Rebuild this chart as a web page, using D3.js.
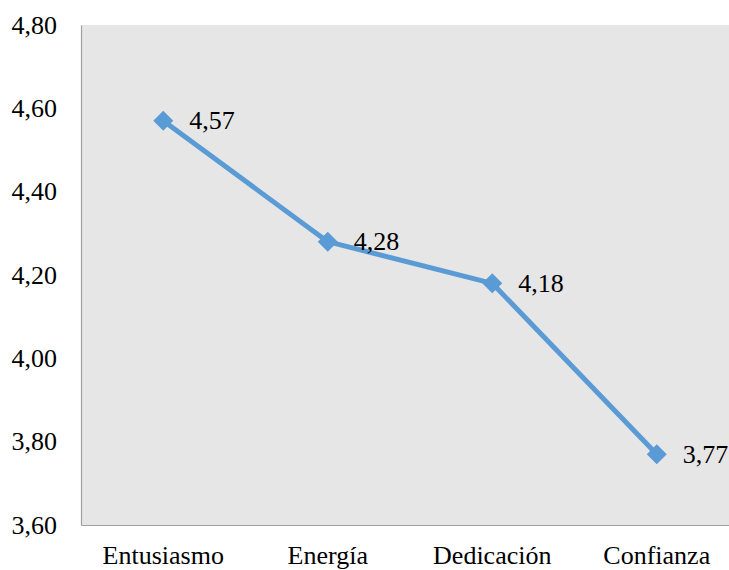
<!DOCTYPE html>
<html>
<head>
<meta charset="utf-8">
<script src="https://cdn.jsdelivr.net/npm/d3@7"></script>
<style>
  body { margin: 0; background: #ffffff; }
  svg { display: block; }
</style>
</head>
<body>
<svg id="chart" width="729" height="570"></svg>
<script>
// Dimension means
const categories = ["Entusiasmo", "Energía", "Dedicación", "Confianza"];
const values = [4.57, 4.28, 4.18, 3.77];
const yTicks = [3.60, 3.80, 4.00, 4.20, 4.40, 4.60, 4.80];

const FONT = "Liberation Serif";
const svg = d3.select("#chart");
const plotLeft = 81, plotTop = 25, plotBottom = 525, plotWidth = 658;

const x = d3.scaleBand().domain(categories).range([plotLeft, plotLeft + plotWidth]);
const y = d3.scaleLinear().domain([3.6, 4.8]).range([plotBottom, plotTop]);
const fmt = v => d3.format(".2f")(v).replace(".", ",");

// plot background
svg.append("rect")
  .attr("x", plotLeft).attr("y", plotTop)
  .attr("width", plotWidth).attr("height", plotBottom - plotTop)
  .attr("fill", "#e6e6e6");

// y axis
const yAxis = svg.append("g")
  .attr("transform", `translate(${plotLeft},0)`)
  .call(d3.axisLeft(y).tickValues(yTicks).tickSize(0).tickPadding(24).tickFormat(fmt));
yAxis.attr("font-family", FONT).attr("font-size", 26);
yAxis.select(".domain").attr("stroke", "#a0a0a0").attr("stroke-width", 1.2);
yAxis.selectAll("text").attr("fill", "#000");

// x axis
const xAxis = svg.append("g")
  .attr("transform", `translate(0,${plotBottom})`)
  .call(d3.axisBottom(x).tickSize(0).tickPadding(21));
xAxis.attr("font-family", FONT).attr("font-size", 26);
xAxis.select(".domain").attr("stroke", "#a0a0a0").attr("stroke-width", 1.2);
xAxis.selectAll("text").attr("fill", "#000");

const cx = c => x(c) + x.bandwidth() / 2;
const pts = categories.map((c, i) => [cx(c), y(values[i])]);

// series line
svg.append("path")
  .attr("d", d3.line()(pts))
  .attr("fill", "none")
  .attr("stroke", "#5b9bd5")
  .attr("stroke-width", 5)
  .attr("stroke-linejoin", "round");

// diamond markers
svg.selectAll(".marker")
  .data(pts)
  .join("path")
  .attr("class", "marker")
  .attr("d", d3.symbol(d3.symbolSquare, 200)())
  .attr("transform", d => `translate(${d[0]},${d[1]}) rotate(45)`)
  .attr("fill", "#5b9bd5");

// value labels
svg.selectAll(".lbl")
  .data(values)
  .join("text")
  .attr("class", "lbl")
  .attr("x", (v, i) => pts[i][0] + 26)
  .attr("y", (v, i) => pts[i][1])
  .attr("dy", "0.33em")
  .attr("font-family", FONT)
  .attr("font-size", 26)
  .attr("fill", "#000")
  .text(v => fmt(v));
</script>
</body>
</html>
